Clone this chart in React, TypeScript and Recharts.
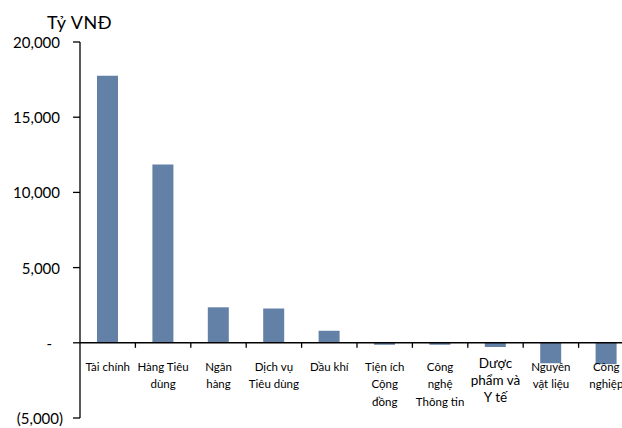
import { BarChart, Bar, XAxis, YAxis, ReferenceLine } from 'recharts';

const CATEGORIES = [
  'Tài chính',
  'Hàng Tiêu dùng',
  'Ngân hàng',
  'Dịch vụ Tiêu dùng',
  'Dầu khí',
  'Tiện ích Cộng đồng',
  'Công nghệ Thông tin',
  'Dược phẩm và Y tế',
  'Nguyên vật liệu',
  'Công nghiệp'
];

// how each category label wraps under the axis
const LABEL_LINES = [
  ['Tài chính'],
  ['Hàng Tiêu', 'dùng'],
  ['Ngân', 'hàng'],
  ['Dịch vụ', 'Tiêu dùng'],
  ['Dầu khí'],
  ['Tiện ích', 'Cộng', 'đồng'],
  ['Công', 'nghệ', 'Thông tin'],
  ['Dược', 'phẩm và', 'Y tế'],
  ['Nguyên', 'vật liệu'],
  ['Công', 'nghiệp']
];

const VALUES = [17750, 11850, 2360, 2280, 800, -130, -130, -280, -1360, -1420];

const Y_TICKS = [-5000, 0, 5000, 10000, 15000, 20000];

const BAR_COLOR = '#6380A6';
const FONT = 'Lato, "Open Sans", sans-serif';

const CHART_W = 650;
const CHART_H = 428;
const MARGIN = { top: 42, right: 16, bottom: 0, left: 0 };
const X_AXIS_H = 10;
const PLOT_H = CHART_H - MARGIN.top - MARGIN.bottom - X_AXIS_H;
const Y_MIN = -5000;
const Y_MAX = 20000;
// distance from plot bottom up to the zero line
const ZERO_SHIFT = (PLOT_H * (0 - Y_MIN)) / (Y_MAX - Y_MIN);

const chartData = CATEGORIES.map((name, i) => ({ name, value: VALUES[i] }));

function formatY(v: number) {
  if (v === 0) return '-';
  const s = Math.abs(v).toLocaleString('en-US');
  return v < 0 ? `(${s})` : s;
}

function YTick(props: any) {
  const { x, y, payload } = props;
  const v = payload.value as number;
  const endX = v === 0 ? x - 19 : v < 0 ? x - 8 : x - 11;
  return (
    <text
      x={endX}
      y={y}
      textAnchor="end"
      dominantBaseline="central"
      fill="#000"
      style={{ fontSize: 15, fontFamily: FONT }}
    >
      {formatY(v)}
    </text>
  );
}

function XTick(props: any) {
  const { x, y, payload, index } = props;
  const lines = LABEL_LINES[index] || [String(payload.value)];
  const zeroY = y - ZERO_SHIFT;
  const big = lines[0] === 'Dược';
  const fontSize = big ? 13.5 : 11.5;
  const first = big ? 20.5 : 23.5;
  const step = big ? 17 : 17.5;
  const boundary = x + (payload.offset || 0);
  return (
    <g>
      <line x1={boundary} y1={zeroY} x2={boundary} y2={zeroY + 5} stroke="#000" strokeWidth={1.3} />
      <text
        x={x}
        textAnchor="middle"
        fill="#000"
        style={{ fontSize, fontFamily: FONT }}
      >
        {lines.map((l, i) => (
          <tspan key={i} x={x} y={zeroY + first + i * step} dominantBaseline="central">
            {l}
          </tspan>
        ))}
      </text>
    </g>
  );
}

export default function App() {
  return (
    <div
      style={{
        position: 'absolute',
        left: 0,
        top: 0,
        width: 622,
        height: 428,
        overflow: 'hidden',
        background: '#fff'
      }}
    >
      <div
        style={{
          position: 'absolute',
          left: 47,
          top: 10,
          fontSize: 18,
          letterSpacing: 0.6,
          lineHeight: '24px',
          fontFamily: FONT,
          color: '#000'
        }}
      >
        Tỷ VNĐ
      </div>
      <BarChart width={CHART_W} height={CHART_H} data={chartData} margin={MARGIN} barSize={21}>
        <XAxis
          dataKey="name"
          height={X_AXIS_H}
          axisLine={false}
          tickLine={false}
          tickSize={0}
          tickMargin={0}
          interval={0}
          tick={<XTick />}
        />
        <YAxis
          width={80}
          domain={[Y_MIN, Y_MAX]}
          ticks={Y_TICKS}
          interval={0}
          tickSize={7}
          axisLine={{ stroke: '#000', strokeWidth: 1.3 }}
          tickLine={{ stroke: '#000', strokeWidth: 1.3 }}
          tick={<YTick />}
        />
        <Bar dataKey="value" fill={BAR_COLOR} isAnimationActive={false} />
        <ReferenceLine y={0} stroke="#000" strokeWidth={1.6} />
      </BarChart>
    </div>
  );
}
